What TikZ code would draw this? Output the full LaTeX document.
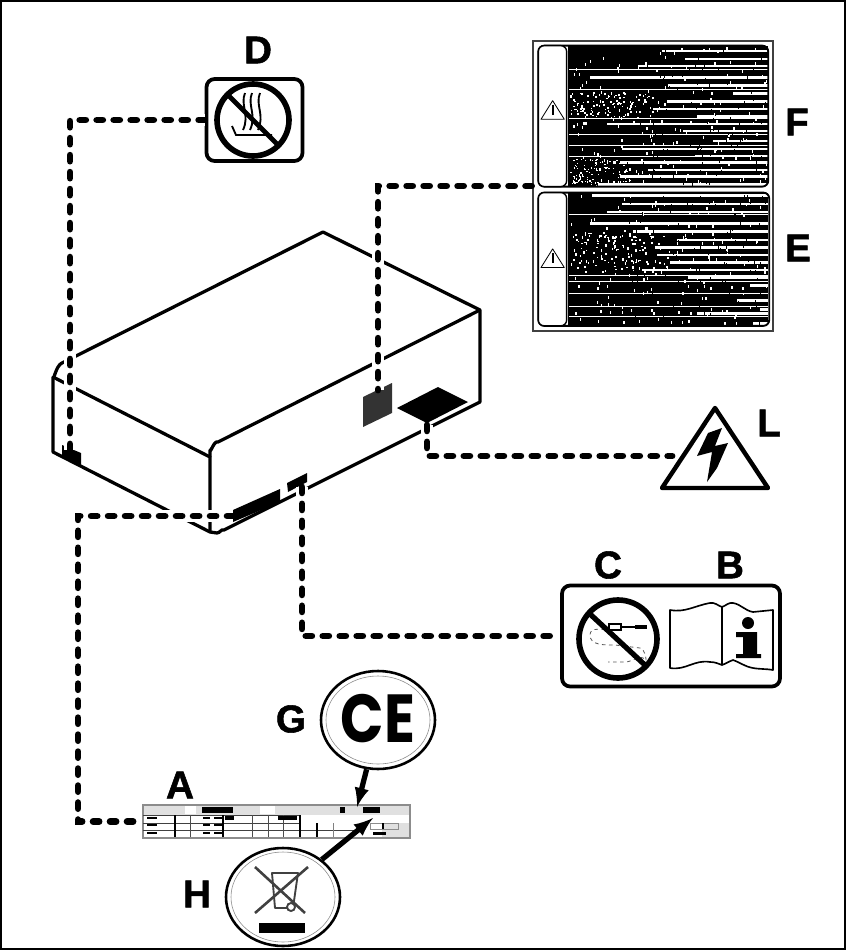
\documentclass[tikz,border=0pt]{standalone}
\usepackage{fontspec}
\setmainfont{Liberation Sans}
\newfontfamily\labelfont[FakeBold=1.4]{Liberation Sans Bold}
\newfontfamily\markfont{Poppins Bold}
\usetikzlibrary{shapes.geometric}
\tikzset{
	letter/.style={font=\fontsize{33}{33}\selectfont\labelfont,inner sep=0pt},
	edge/.style={line width=2.8pt,line join=round},
	dashlink/.style={preaction={draw,white,line width=11pt,solid},line width=5.9pt,dash pattern=on 5pt off 9.5pt,line cap=round},
	iconbox/.style={draw,line width=3.2pt,rounded corners=7pt},
	seal/.style={draw,ellipse,line width=2.2pt,inner sep=0pt,minimum width=3.42cm,minimum height=2.94cm},
	pointer/.style={line width=4.5pt,-latex}
}
\begin{document}
\begin{tikzpicture}[x=0.03cm,y=-0.03cm]
	\useasboundingbox (0,0) rectangle (846,950);
	\draw[line width=1.7pt] (1,1) rectangle (844.5,949);

	\draw[edge] (62,363) -- (323,232) -- (480,310) -- (480,402) -- (224,530) to[out=153,in=0] (217,533) -- (210,532) -- (53,452) -- (53,377) to[out=-90,in=200] (62,363);
	\draw[edge] (53,377) -- (210,457) -- (210,532);
	\draw[edge] (210,457) -- (210,450) to[out=-90,in=153] (218,442) -- (480,310);

	\fill[black!80] (363,397) -- (392,383) -- (392,413) -- (363,427) -- cycle;
	\fill (397,408) -- (438,387) -- (468,402) -- (427,423) -- cycle;
	\fill (233,510) -- (280,489) -- (280,502) -- (233,522) -- cycle;
	\fill (287,483) -- (307,473) -- (307,482) -- (288,492) -- cycle;
	\fill (62,445) -- (81,453) -- (81,465) -- (62,456) -- cycle;

	\coordinate (patchD) at (70,450);
	\coordinate (patchF) at (378,390);
	\coordinate (patchL) at (427,425);
	\coordinate (patchC) at (302,487);
	\coordinate (patchA) at (233,516);
	\coordinate (bendA) at (78,516);

	\node[iconbox,minimum width=2.88cm,minimum height=2.46cm] (iconD) at (254.5,120) {};
	\node[iconbox,minimum width=6.54cm,minimum height=3.03cm] (iconCB) at (671,636) {};
	\node[draw=black!75,line width=2.5pt,minimum width=7.2cm,minimum height=8.7cm] (panel) at (653,186) {};
	\node[draw=black!45,fill=black!12,line width=1pt,minimum width=8.01cm,minimum height=.99cm] (tableA) at (276.5,821.5) {};
	\node[seal] (circG) at (378,720) {};
	\node[seal] (circH) at (283,897) {};
	\coordinate (triL) at (672,456);
	\coordinate (tipG) at (357,807);
	\coordinate (tipH) at (373,818);

	\draw[dashlink] (iconD.west) -| (patchD);
	\draw[dashlink] (panel.west) -| (patchF);
	\draw[dashlink] (patchL) |- (triL);
	\draw[dashlink] (patchC) |- (iconCB.west);
	\draw[dashlink] (patchA) -- (bendA) |- (tableA.west);

	\draw[line width=3.8pt,fill=white,line join=round] (715,408) -- (768,488) -- (662,488) -- cycle;
	\fill (722,428) -- (708,433) -- (697,456) -- (712,452) -- (707,482) -- (717,468) -- (728,443) -- (715,446) -- cycle;

	\node[letter] (labelD) at (258,50) {D};
	\draw[line width=4.8pt] (253,120) circle (36);
	\draw[line width=4pt] (228,95) -- (279,146);
	\foreach \x in {245,252,260}
		\draw[line width=1.6pt] (\x,93) .. controls (\x-5,105) and (\x+5,115) .. (\x-2,130);
	\draw[line width=1.6pt] (232,126) -- (236,135) -- (272,135);

	\node[letter] (labelC) at (608,565) {C};
	\node[letter] (labelB) at (730,565) {B};
	\draw[line width=4.8pt] (618,639) circle (39);
	\draw[black!65,line width=.7pt,dashed] (612,630) to[out=180,in=90] (590,635) to[out=-90,in=180] (615,645) -- (640,648) to[out=0,in=-60] (645,660) to[out=120,in=0] (625,662) -- (608,662);
	\draw[line width=4.5pt] (590,614) -- (646,666);
	\draw[line width=1pt,fill=white] (609,624) rectangle (621,630);
	\draw[line width=2pt] (621,627) -- (635,627);
	\draw[line width=1pt] (635,626) -- (647,626);
	\draw[line width=1pt] (635,628) -- (647,628);
	\draw[line width=1.4pt,line join=round] (670,610) to[out=-10,in=190] (710,603) to[out=10,in=160] (722,607) to[out=20,in=170] (733,603) to[out=-10,in=170] (753,612) -- (773,610) -- (773,670) to[out=170,in=-10] (753,668) to[out=170,in=-20] (733,660) to[out=-160,in=20] (722,665) to[out=160,in=0] (710,662) to[out=170,in=-10] (670,668) -- cycle;
	\draw[line width=1.8pt] (722,607) -- (722,665);
	\fill (748,623) circle (6);
	\fill (736,632) -- (757,632) -- (757,654) -- (761,654) -- (761,658) -- (736,658) -- (736,654) -- (743,654) -- (743,637) -- (736,637) -- cycle;

	\node[letter] (labelL) at (769,423) {L};
	\node[letter] (labelF) at (797,122) {F};
	\node[letter] (labelE) at (798,248) {E};

	\begin{scope}[shift={(520,30)},x=0.01cm,y=-0.01cm]
		\fill (145,48) rectangle (745,468);
		\fill (145,490) rectangle (745,886);
		\foreach \y/\x in {63/425,87/495,108/355,143/210,167/445,190/640,215/440,237/400,260/530,282/260,303/490,333/580,357/305,378/525,397/300,420/385,440/300,463/235,497/215,522/305,546/260,581/210,605/340,630/470,652/405,675/410,697/450,720/365,743/505,767/690,812/650,838/720,850/530,880/700}
			\fill[white] (\x,\y-4) rectangle (748,\y+4);
		\foreach \y in {118,178,265,312,345,380,553,735,755,790,830,860}
			\fill[white] (148,\y-1) rectangle (748,\y+1);
		\pgfmathsetseed{7}
		\foreach \i in {1,...,110} {
			\pgfmathsetmacro{\sx}{150+rnd*250}
			\pgfmathsetmacro{\sy}{185+rnd*75}
			\fill[white] (\sx,\sy) rectangle ++(5,5);
			\pgfmathsetmacro{\sx}{150+rnd*300}
			\pgfmathsetmacro{\sy}{600+rnd*125}
			\fill[white] (\sx,\sy) rectangle ++(5,5);
			\pgfmathsetmacro{\sx}{150+rnd*180}
			\pgfmathsetmacro{\sy}{385+rnd*80}
			\fill[white] (\sx,\sy) rectangle ++(4,4);
		}
		\foreach \i in {1,...,170} {
			\pgfmathsetmacro{\sx}{150+rnd*590}
			\pgfmathsetmacro{\sy}{50+rnd*410}
			\fill[white] (\sx,\sy) rectangle ++(4,9);
			\pgfmathsetmacro{\sx}{150+rnd*590}
			\pgfmathsetmacro{\sy}{492+rnd*385}
			\fill[white] (\sx,\sy) rectangle ++(4,9);
			\pgfmathsetmacro{\sx}{300+rnd*440}
			\pgfmathsetmacro{\sy}{50+rnd*410}
			\fill (\sx,\sy) rectangle ++(3,8);
			\pgfmathsetmacro{\sx}{300+rnd*440}
			\pgfmathsetmacro{\sy}{492+rnd*385}
			\fill (\sx,\sy) rectangle ++(3,8);
		}
		\draw[line width=1.6pt,rounded corners=5pt] (55,470) -- (55,47) -- (745,47) -- (745,470) -- cycle;
		\draw[line width=1.6pt,rounded corners=5pt] (55,488) rectangle (748,888);
		\draw[line width=1.2pt,rounded corners=5pt,fill=white] (55,47) rectangle (140,470);
		\draw[line width=1.2pt,rounded corners=5pt,fill=white] (55,488) rectangle (140,888);
		\foreach \y in {240,685} {
			\draw[line width=.7pt,line join=round] (98,\y-28) -- (133,\y+28) -- (63,\y+28) -- cycle;
			\draw[line width=1.6pt] (98,\y-15) -- (98,\y+14);
		}
	\end{scope}

	\node[letter] (labelA) at (180,785) {A};
	\fill[white] (300,815) rectangle (409,823);
	\fill[white] (260,806) rectangle (275,814);
	\fill[white] (144,814.5) rectangle (300,837);
	\fill[white] (300,823) rectangle (382,837);
	\fill[white] (185,806) rectangle (196,814);
	\fill (202,807) rectangle (233,813);
	\fill (340,807) rectangle (345,813);
	\fill (363,807) rectangle (380,813);
	\draw[black!75,line width=.8pt] (143,815) -- (300,815);
	\draw[black!75,line width=.8pt] (143,823) -- (300,823);
	\draw[black!75,line width=.8pt] (143,830) -- (360,830);
	\foreach \x in {175,223} \draw[line width=1.2pt] (\x,815) -- (\x,837);
	\foreach \x in {190,252,268,283} \draw[black!70,line width=.6pt] (\x,815) -- (\x,837);
	\draw[line width=1pt] (300,815) -- (300,837);
	\draw[line width=1pt] (317,823) -- (317,837);
	\draw[black!50,line width=.6pt] (333,823) -- (333,837);
	\foreach \y in {818,825,833} {
		\fill (147,\y-1.2) rectangle (157,\y+1.2);
		\fill (203,\y-1.2) rectangle (210,\y+1.2);
		\fill (214,\y-1.2) rectangle (222,\y+1.2);
	}
	\fill (225,816) rectangle (234,820);
	\fill (278,816) rectangle (297,820);
	\draw[black!45,line width=.7pt] (370,823) rectangle (398,829);
	\draw[line width=1pt] (383,823) -- (383,829);
	\fill[black!12] (383,831) rectangle (408,837);
	\fill (373,832) rectangle (386,835);

	\node[letter] (labelG) at (291,719) {G};
	\draw[black!45,line width=.5pt] (circG.center) ellipse (52 and 44);
	\node[font=\fontsize{58}{58}\selectfont\markfont,xscale=.84,transform shape,inner sep=0pt] (markCE) at (378,719) {CE};
	\draw[pointer] (circG.257) -- (tipG);

	\node[letter] (labelH) at (197,894) {H};
	\draw[black!45,line width=.5pt] (circH.center) ellipse (52 and 45);
	\draw[black!75,line width=1.6pt,line join=round] (272,873) -- (298,873) -- (293,908) -- (275,908) -- cycle;
	\draw[black!75,line width=2.2pt] (255,867) -- (305,913);
	\draw[black!75,line width=2.2pt] (308,867) -- (255,913);
	\draw[black!75,line width=1.6pt,fill=white] (291,907) circle (4);
	\fill (259,923) rectangle (305,933);
	\draw[pointer] (circH.44) -- (tipH);
\end{tikzpicture}
\end{document}
